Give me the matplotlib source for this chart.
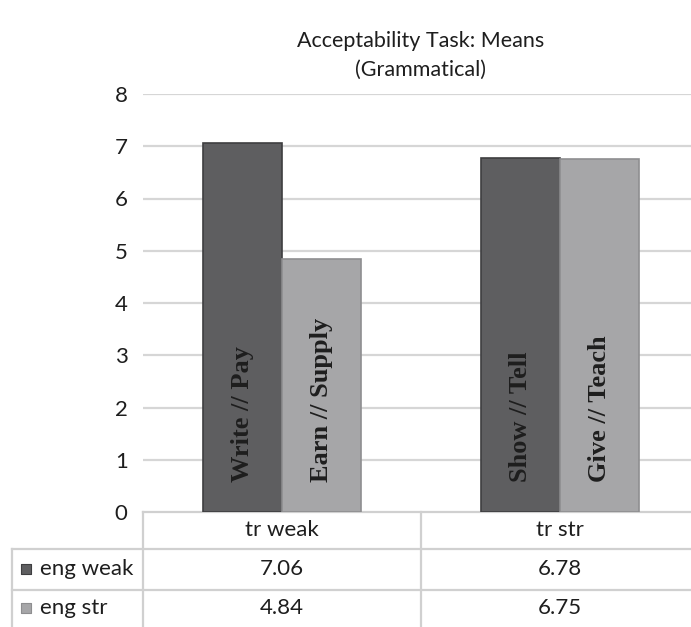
import matplotlib
matplotlib.use("Agg")
import matplotlib.pyplot as plt
import numpy as np

plt.rcParams['font.family'] = ['Lato', 'DejaVu Sans']

# chart data
categories = ["tr weak", "tr str"]
series_names = ["eng weak", "eng str"]
eng_weak = [7.06, 6.78]
eng_str = [4.84, 6.75]
bar_labels = [["Write // Pay", "Show // Tell"], ["Earn // Supply", "Give // Teach"]]
y_ticks = [0, 1, 2, 3, 4, 5, 6, 7, 8]

fills = ["#5e5e60", "#a6a6a8"]
edges = ["#3e3e40", "#8e8e90"]
grid_col = "#d6d6d6"
txt_col = "#1e1e1e"

W, H = 691, 627
fig = plt.figure(figsize=(W / 100, H / 100), dpi=100)
fig.patch.set_facecolor("white")

# plot area in pixels: left 143, right 699, top 94, zero line 512
left, right, top, bottom = 143, 699, 94, 512
ax = fig.add_axes([left / W, (H - bottom) / H, (right - left) / W, (bottom - top) / H])
ax.set_xlim(-0.5, len(categories) - 0.5)
ax.set_ylim(0, 8)
px_per_unit = (bottom - top) / 8.0

x = np.arange(len(categories))
bw = 0.284
series = [eng_weak, eng_str]
for i, vals in enumerate(series):
    offs = (i - 0.5) * bw
    ax.bar(x + offs, vals, width=bw, color=fills[i], edgecolor=edges[i],
           linewidth=1.2, zorder=3)
    for j in range(len(categories)):
        ax.text(x[j] + offs, 30 / px_per_unit, bar_labels[i][j], rotation=90,
                ha="center", va="bottom", family="Liberation Serif",
                fontweight="bold", fontsize=19, color=txt_col, zorder=4)

for t in y_ticks[1:]:
    ax.axhline(t, color=grid_col, linewidth=1.6, zorder=1)
ax.set_yticks(y_ticks)
ax.set_yticklabels([str(t) for t in y_ticks], fontsize=16, color=txt_col)
ax.tick_params(axis="y", length=0, pad=11)
ax.set_xticks([])
for s in ax.spines.values():
    s.set_visible(False)

ax.set_title("Acceptability Task: Means\n(Grammatical)", fontsize=15.5,
             color=txt_col, pad=13, linespacing=1.55)

# data table under the plot
def ypx(p):
    return (bottom - p) / px_per_unit

x_left_col = -0.5 + (12 - left) / ((right - left) / len(categories))
row_lines = [512, 549, 590]
line_kw = dict(color="#d0d0d0", linewidth=1.6, clip_on=False, zorder=2)
ax.plot([-0.5, 1.6], [0, 0], **line_kw)
for yp in row_lines[1:]:
    ax.plot([x_left_col, 1.6], [ypx(yp)] * 2, **line_kw)
for xv in [-0.5, 0.5]:
    ax.plot([xv, xv], [0, ypx(640)], **line_kw)
ax.plot([x_left_col, x_left_col], [ypx(549), ypx(640)], **line_kw)

for j, cat in enumerate(categories):
    ax.text(x[j], ypx(530), cat, ha="center", va="center", fontsize=16,
            color=txt_col, clip_on=False)
row_centers = [569, 608]
for i, vals in enumerate(series):
    yc = ypx(row_centers[i])
    ax.scatter([x_left_col + 0.05], [yc], marker="s", s=60, color=fills[i],
               edgecolor=edges[i], linewidth=0.8, clip_on=False, zorder=3)
    ax.text(x_left_col + 0.1, yc, series_names[i], ha="left", va="center",
            fontsize=16, color=txt_col, clip_on=False)
    for j in range(len(categories)):
        ax.text(x[j], yc, f"{vals[j]:.2f}", ha="center", va="center",
                fontsize=16, color=txt_col, clip_on=False)

fig.savefig("out.png", dpi=100)
